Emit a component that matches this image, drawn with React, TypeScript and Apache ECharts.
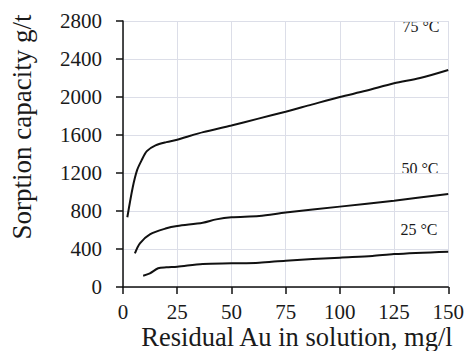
import React, { useEffect, useRef } from "react";
import * as echarts from "echarts";

const x75 = [2, 4.5, 6.5, 8.5, 11, 15, 20, 25, 30, 37, 50, 62, 75, 87, 100, 112, 125, 137, 150];
const y75 = [734, 1050, 1230, 1330, 1430, 1490, 1525, 1550, 1585, 1630, 1700, 1770, 1845, 1920, 2000, 2065, 2145, 2200, 2285];
const x50 = [5.5, 7.8, 12.4, 20, 25, 36.8, 43, 50, 62.8, 75, 100, 125, 150];
const y50 = [355, 460, 555, 618, 642, 677, 712, 734, 748, 783, 846, 909, 979];
const x25 = [9.3, 12.4, 16.2, 20, 25, 36.8, 50, 62.8, 75, 100, 115, 125, 150];
const y25 = [119, 144, 197, 207, 214, 242, 249, 256, 277, 309, 326, 347, 372];
const seriesNames = ["75 °C", "50 °C", "25 °C"];
const xTitle = "Residual Au in solution, mg/l";
const yTitle = "Sorption capacity g/t";

const FONT = "Liberation Serif";

export default function App() {
  const ref = useRef<HTMLDivElement>(null);
  useEffect(() => {
    if (!ref.current) return;
    const chart = echarts.init(ref.current, null, { renderer: "svg" });
    const zip = (xs: number[], ys: number[]) => xs.map((x, i) => [x, ys[i]]);
    const lineSeries = (name: string, xs: number[], ys: number[]) => ({
      name,
      type: "line",
      data: zip(xs, ys),
      showSymbol: false,
      symbol: "none",
      smooth: 0.3,
      lineStyle: { color: "#111", width: 2 },
    });
    const txt = (x: number, y: number, text: string, size: number, extra: any = {}) => ({
      type: "text",
      x,
      y,
      ...extra,
      style: { text, fontFamily: FONT, fontSize: size, fill: "#1a1a1a", textAlign: "center", textVerticalAlign: "middle" },
    });
    chart.setOption({
      animation: false,
      backgroundColor: "#fff",
      textStyle: { fontFamily: FONT },
      grid: { left: 123, right: 17, top: 21, bottom: 64 },
      xAxis: {
        type: "value",
        min: 0,
        max: 150,
        interval: 25,
        axisLine: { show: true, lineStyle: { color: "#111", width: 1.5 } },
        axisTick: { show: true, inside: false, length: 7, lineStyle: { color: "#111", width: 1.5 } },
        axisLabel: { fontFamily: FONT, fontSize: 21, color: "#1a1a1a", margin: 14 },
        splitLine: { show: true, lineStyle: { color: "#dcdee8", width: 1 } },
      },
      yAxis: {
        type: "value",
        min: 0,
        max: 2800,
        interval: 400,
        axisLine: { show: true, lineStyle: { color: "#111", width: 1.5 } },
        axisTick: { show: true, inside: false, length: 7, lineStyle: { color: "#111", width: 1.5 } },
        axisLabel: { fontFamily: FONT, fontSize: 21, color: "#1a1a1a", margin: 21, formatter: (v: number) => String(v) },
        splitLine: { show: true, lineStyle: { color: "#dcdee8", width: 1 } },
      },
      series: [
        lineSeries(seriesNames[0], x75, y75),
        lineSeries(seriesNames[1], x50, y50),
        lineSeries(seriesNames[2], x25, y25),
      ],
      graphic: [
        txt(421, 26, seriesNames[0], 16),
        txt(420, 168, seriesNames[1], 16),
        txt(419, 229, seriesNames[2], 16),
        txt(297, 337, xTitle, 26.5),
        txt(22, 127, yTitle, 27, { rotation: Math.PI / 2 }),
      ],
    });
    return () => chart.dispose();
  }, []);
  return <div ref={ref} style={{ width: 467, height: 351, position: "absolute", left: 0, top: 0 }} />;
}
